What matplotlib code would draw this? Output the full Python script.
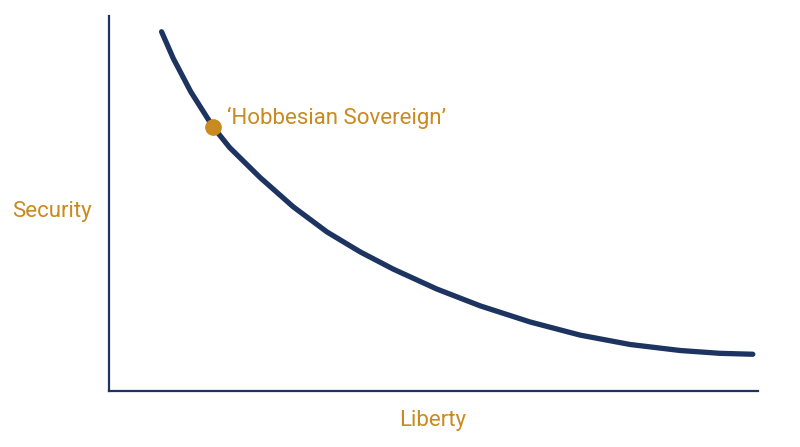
import matplotlib
matplotlib.use("Agg")
import matplotlib.pyplot as plt

plt.rcParams['font.family'] = ['Roboto', 'DejaVu Sans']

NAVY = '#1d3461'
GOLD = '#c98a1f'

# curve (liberty vs security, arbitrary 0-10 units)
liberty = [0.81, 0.99, 1.26, 1.60, 1.86, 2.13, 2.33, 2.84, 3.36,
           3.87, 4.38, 5.05, 5.72, 6.49, 7.26, 8.03, 8.80, 9.41, 9.92]
security = [9.58, 8.87, 7.98, 7.05, 6.49, 6.03, 5.69, 4.91, 4.24,
            3.71, 3.25, 2.72, 2.27, 1.84, 1.49, 1.24, 1.08, 1.005, 0.98]

sovereign_x = [1.60]
sovereign_y = [7.05]
sovereign_label = "\u2018Hobbesian Sovereign\u2019"

fig = plt.figure(figsize=(8, 4.47), dpi=100)
ax = fig.add_axes([109 / 800, 56 / 447, 649 / 800, 375 / 447])

ax.plot(liberty, security, color=NAVY, linewidth=3.8,
        solid_capstyle='round', solid_joinstyle='round')
ax.plot(sovereign_x, sovereign_y, 'o', color=GOLD, markersize=11, zorder=3)
ax.annotate(sovereign_label, (sovereign_x[0], sovereign_y[0]),
            xytext=(10, 2), textcoords='offset points',
            color=GOLD, fontsize=16, va='baseline', ha='left')

ax.set_xlim(0, 10)
ax.set_ylim(0, 10)
for side in ['top', 'right']:
    ax.spines[side].set_visible(False)
for side in ['left', 'bottom']:
    ax.spines[side].set_color(NAVY)
    ax.spines[side].set_linewidth(1.6)
ax.set_xticks([])
ax.set_yticks([])

fig.text(433 / 800, 1 - 426 / 447, 'Liberty', color=GOLD, fontsize=16,
         ha='center', va='baseline')
fig.text(52 / 800, 1 - 217 / 447, 'Security', color=GOLD, fontsize=16,
         ha='center', va='baseline')

fig.savefig('out.png', dpi=100, facecolor='white')
